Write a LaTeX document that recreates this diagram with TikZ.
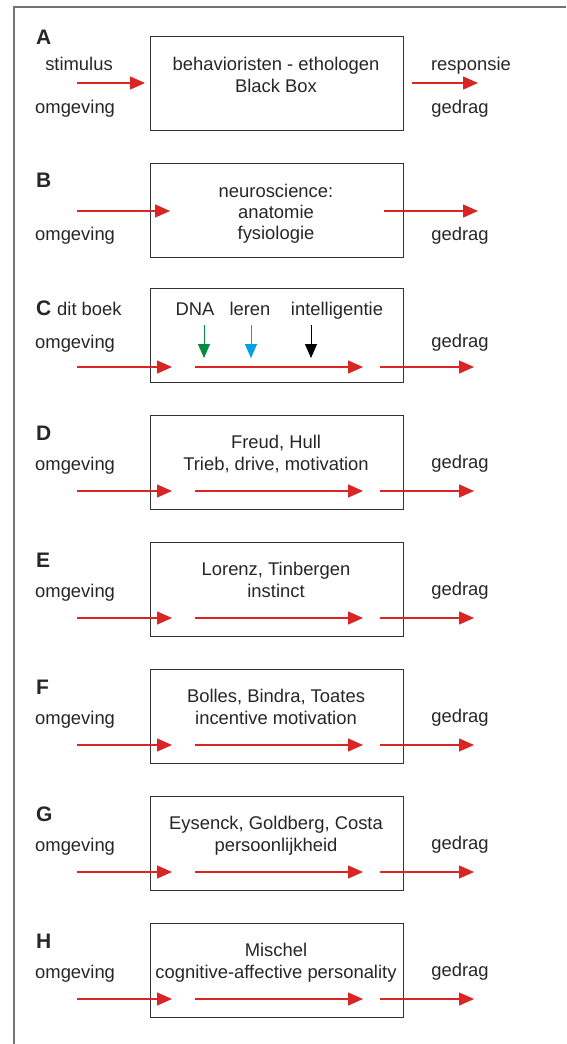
\documentclass[tikz,border=0pt]{standalone}
\usepackage{fontspec}
\setmainfont{Liberation Sans}
\usetikzlibrary{arrows.meta}
\definecolor{flowred}{RGB}{218,37,37}
\definecolor{dnagreen}{RGB}{0,140,60}
\definecolor{learnblue}{RGB}{0,160,225}
\definecolor{framegrey}{RGB}{115,115,115}
\begin{document}
\begin{tikzpicture}[x=1pt, y=-1pt,
    every node/.style={font=\fontsize{18.4}{22}\selectfont, text=black!85, inner sep=0pt},
    panel/.style={draw=black!80, line width=1.2pt, minimum width=253pt, minimum height=94pt, anchor=north west},
    letter/.style={font=\fontsize{21}{24}\selectfont\bfseries, anchor=base west},
    label/.style={anchor=base},
    env/.style={anchor=base west},
    flow/.style={draw=flowred, line width=1.3pt, -{Triangle[length=15pt, width=13pt]}},
    factor/.style={line width=1pt, -{Triangle[length=14pt, width=12pt]}}]
    \useasboundingbox (0,0) rectangle (566,1044);
    \draw[framegrey, line width=2.5pt] (14,1044) -- (14,7) -- (566,7);

    \node[panel] (boxA) at (150,36) {};
    \node[letter] (letA) at (36,44) {A};
    \node[label] (stimA) at (79,70) {stimulus};
    \node[env] (envA) at (35,113) {omgeving};
    \node[label] (respA) at (471,70) {responsie};
    \node[label] (outA) at (460,113) {gedrag};
    \node[label] (txtA1) at (276,70) {behavioristen - ethologen};
    \node[label] (txtA2) at (276,92) {Black Box};
    \coordinate (inA1) at (77,83);
    \coordinate (inA2) at (145,83);
    \coordinate (outA1) at (412,83);
    \coordinate (outA2) at (478,83);
    \draw[flow] (inA1) -- (inA2);
    \draw[flow] (outA1) -- (outA2);

    \node[panel] (boxB) at (150,163) {};
    \node[letter] (letB) at (36,187) {B};
    \node[env] (envB) at (35,240) {omgeving};
    \node[label] (outB) at (460,240) {gedrag};
    \node[label] (txtB1) at (276,197) {neuroscience:};
    \node[label] (txtB2) at (276,218) {anatomie};
    \node[label] (txtB3) at (276,239) {fysiologie};
    \coordinate (inB1) at (77,211);
    \coordinate (inB2) at (170,211);
    \coordinate (outB1) at (384,211);
    \coordinate (outB2) at (478,211);
    \draw[flow] (inB1) -- (inB2);
    \draw[flow] (outB1) -- (outB2);

    \node[panel] (boxC) at (150,288) {};
    \node[letter] (letC) at (36,315) {C};
    \node[anchor=base west] (bookC) at (57,315) {dit boek};
    \node[env] (envC) at (35,348) {omgeving};
    \node[label] (outC) at (460,347) {gedrag};
    \node[label] (dna) at (195,315) {DNA};
    \node[label] (leren) at (250,315) {leren};
    \node[label] (intel) at (337,315) {intelligentie};
    \coordinate (dna1) at (204,325);
    \coordinate (dna2) at (204,358);
    \coordinate (leren1) at (251,325);
    \coordinate (leren2) at (251,358);
    \coordinate (intel1) at (311,325);
    \coordinate (intel2) at (311,358);
    \draw[factor, draw=dnagreen, fill=dnagreen] (dna1) -- (dna2);
    \draw[factor, draw=learnblue, fill=learnblue] (leren1) -- (leren2);
    \draw[factor, draw=black, fill=black] (intel1) -- (intel2);
    \coordinate (inC1) at (77,367);
    \coordinate (inC2) at (172,367);
    \coordinate (midC1) at (195,367);
    \coordinate (midC2) at (363,367);
    \coordinate (outC1) at (380,367);
    \coordinate (outC2) at (474,367);
    \draw[flow] (inC1) -- (inC2);
    \draw[flow] (midC1) -- (midC2);
    \draw[flow] (outC1) -- (outC2);

    \node[panel] (boxD) at (150,415) {};
    \node[letter] (letD) at (36,440) {D};
    \node[env] (envD) at (35,470) {omgeving};
    \node[label] (outD) at (460,468) {gedrag};
    \node[label] (txtD1) at (276,448) {Freud, Hull};
    \node[label] (txtD2) at (276,470) {Trieb, drive, motivation};
    \coordinate (inD1) at (77,491);
    \coordinate (inD2) at (172,491);
    \coordinate (midD1) at (195,491);
    \coordinate (midD2) at (363,491);
    \coordinate (outD1) at (380,491);
    \coordinate (outD2) at (474,491);
    \draw[flow] (inD1) -- (inD2);
    \draw[flow] (midD1) -- (midD2);
    \draw[flow] (outD1) -- (outD2);

    \node[panel] (boxE) at (150,542) {};
    \node[letter] (letE) at (36,567) {E};
    \node[env] (envE) at (35,597) {omgeving};
    \node[label] (outE) at (460,595) {gedrag};
    \node[label] (txtE1) at (276,575) {Lorenz, Tinbergen};
    \node[label] (txtE2) at (276,597) {instinct};
    \coordinate (inE1) at (77,618);
    \coordinate (inE2) at (172,618);
    \coordinate (midE1) at (195,618);
    \coordinate (midE2) at (363,618);
    \coordinate (outE1) at (380,618);
    \coordinate (outE2) at (474,618);
    \draw[flow] (inE1) -- (inE2);
    \draw[flow] (midE1) -- (midE2);
    \draw[flow] (outE1) -- (outE2);

    \node[panel] (boxF) at (150,669) {};
    \node[letter] (letF) at (36,694) {F};
    \node[env] (envF) at (35,724) {omgeving};
    \node[label] (outF) at (460,722) {gedrag};
    \node[label] (txtF1) at (276,702) {Bolles, Bindra, Toates};
    \node[label] (txtF2) at (276,724) {incentive motivation};
    \coordinate (inF1) at (77,745);
    \coordinate (inF2) at (172,745);
    \coordinate (midF1) at (195,745);
    \coordinate (midF2) at (363,745);
    \coordinate (outF1) at (380,745);
    \coordinate (outF2) at (474,745);
    \draw[flow] (inF1) -- (inF2);
    \draw[flow] (midF1) -- (midF2);
    \draw[flow] (outF1) -- (outF2);

    \node[panel] (boxG) at (150,796) {};
    \node[letter] (letG) at (36,821) {G};
    \node[env] (envG) at (35,851) {omgeving};
    \node[label] (outG) at (460,849) {gedrag};
    \node[label] (txtG1) at (276,829) {Eysenck, Goldberg, Costa};
    \node[label] (txtG2) at (276,851) {persoonlijkheid};
    \coordinate (inG1) at (77,872);
    \coordinate (inG2) at (172,872);
    \coordinate (midG1) at (195,872);
    \coordinate (midG2) at (363,872);
    \coordinate (outG1) at (380,872);
    \coordinate (outG2) at (474,872);
    \draw[flow] (inG1) -- (inG2);
    \draw[flow] (midG1) -- (midG2);
    \draw[flow] (outG1) -- (outG2);

    \node[panel] (boxH) at (150,923) {};
    \node[letter] (letH) at (36,948) {H};
    \node[env] (envH) at (35,978) {omgeving};
    \node[label] (outH) at (460,976) {gedrag};
    \node[label] (txtH1) at (276,956) {Mischel};
    \node[label] (txtH2) at (276,978) {cognitive-affective personality};
    \coordinate (inH1) at (77,999);
    \coordinate (inH2) at (172,999);
    \coordinate (midH1) at (195,999);
    \coordinate (midH2) at (363,999);
    \coordinate (outH1) at (380,999);
    \coordinate (outH2) at (474,999);
    \draw[flow] (inH1) -- (inH2);
    \draw[flow] (midH1) -- (midH2);
    \draw[flow] (outH1) -- (outH2);
\end{tikzpicture}
\end{document}
